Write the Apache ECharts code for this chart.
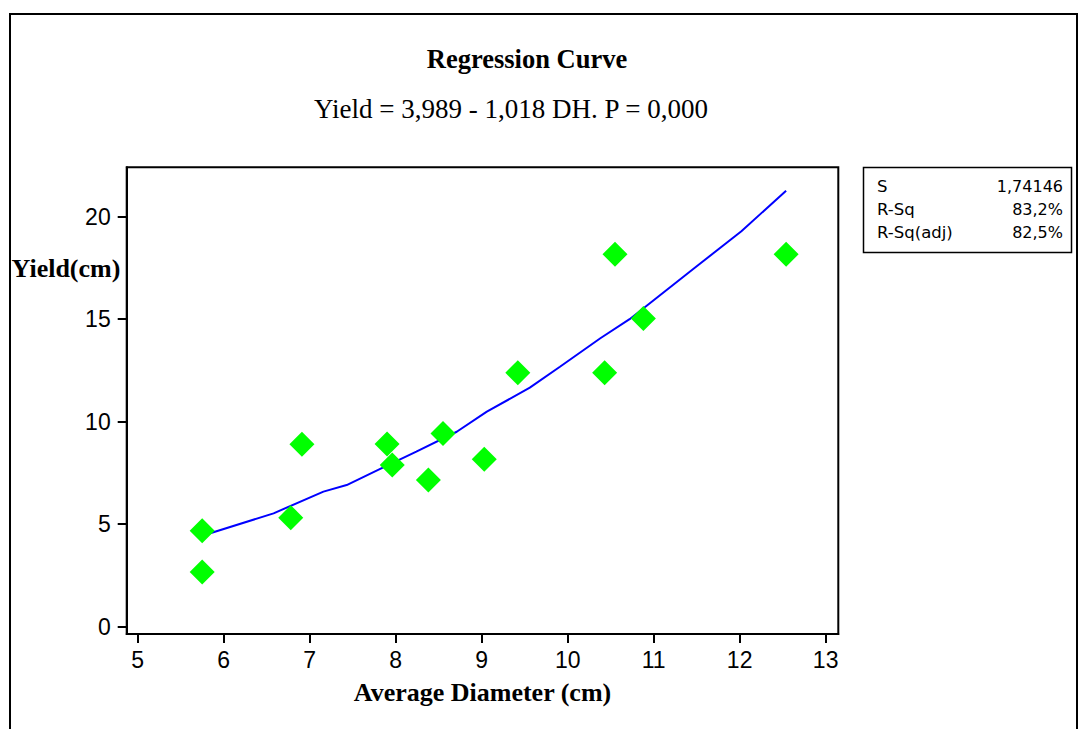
<!DOCTYPE html>
<html>
<head>
<meta charset="utf-8">
<script src="https://cdn.jsdelivr.net/npm/echarts@6/dist/echarts.min.js"></script>
<style>
  html, body { margin: 0; padding: 0; background: #fff; }
  #chart { width: 1080px; height: 729px; }
</style>
</head>
<body>
<div id="chart"></div>
<script>
// ---- data ----
const titleText = 'Regression Curve';
const subtitleText = 'Yield = 3,989 - 1,018 DH. P = 0,000';
const xAxisName = 'Average Diameter (cm)';
const yAxisName = 'Yield(cm)';

const xTicks = [5, 6, 7, 8, 9, 10, 11, 12, 13];
const yTicks = [0, 5, 10, 15, 20];

// observed points (average diameter, yield)
const obsX = [5.75, 5.75, 6.78, 6.91, 7.90, 7.96, 8.38, 8.55, 9.03, 9.42, 10.43, 10.55, 10.88, 12.54];
const obsY = [4.68, 2.67, 5.32, 8.90, 8.91, 7.89, 7.16, 9.43, 8.17, 12.39, 12.39, 18.17, 15.04, 18.17];

// fitted regression curve
const curveX = [5.75, 6.58, 7.16, 7.43, 7.82, 8.24, 8.71, 9.06, 9.56, 9.91, 10.38, 10.72, 11.46, 12.02, 12.54];
const curveY = [4.44, 5.53, 6.59, 6.91, 7.70, 8.54, 9.51, 10.49, 11.66, 12.68, 14.07, 15.00, 17.45, 19.29, 21.27];

// summary statistics box
const statLabels = ['S', 'R-Sq', 'R-Sq(adj)'];
const statValues = ['1,74146', '83,2%', '82,5%'];

// ---- chart ----
const chart = echarts.init(document.getElementById('chart'), null, { renderer: 'svg' });

const scatterData = obsX.map((x, i) => [x, obsY[i]]);
const curveData = curveX.map((x, i) => [x, curveY[i]]);

const serif = "'Liberation Serif', 'Times New Roman', serif";
const tickFont = "'Liberation Sans', Arial, sans-serif";
const boxFont = "'DejaVu Sans', Verdana, sans-serif";

const statGraphics = [];
statGraphics.push({
  type: 'rect',
  shape: { x: 863.5, y: 167.5, width: 208, height: 85 },
  style: { fill: '#fff', stroke: '#000', lineWidth: 1.5 }
});
statLabels.forEach((lab, i) => {
  const cy = 186 + i * 23;
  statGraphics.push({
    type: 'text', x: 877, y: cy,
    style: { text: lab, font: '16.5px ' + boxFont, fill: '#000', textAlign: 'left', textVerticalAlign: 'middle' }
  });
  statGraphics.push({
    type: 'text', x: 1063, y: cy,
    style: { text: statValues[i], font: '16px ' + boxFont, fill: '#000', textAlign: 'right', textVerticalAlign: 'middle' }
  });
});

const option = {
  backgroundColor: '#fff',
  animation: false,
  title: [
    {
      text: titleText,
      left: 522, top: 40, textAlign: 'center',
      textStyle: { fontFamily: serif, fontWeight: 'bold', fontSize: 26.5, color: '#000' }
    },
    {
      text: subtitleText,
      left: 506, top: 90, textAlign: 'center',
      textStyle: { fontFamily: serif, fontWeight: 'normal', fontSize: 27, color: '#000' }
    }
  ],
  grid: {
    left: 126.7, right: 241.7, top: 167.3, bottom: 95,
    show: true, borderColor: '#000', borderWidth: 2, backgroundColor: '#fff',
    outerBoundsMode: 'none'
  },
  xAxis: {
    type: 'value',
    min: 4.872, max: 13.147,
    name: xAxisName,
    nameLocation: 'middle',
    nameGap: 45,
    nameTextStyle: { fontFamily: serif, fontWeight: 'bold', fontSize: 26, color: '#000' },
    axisLine: { show: true, onZero: false, lineStyle: { color: '#000', width: 2 } },
    axisTick: { show: true, length: 9, customValues: xTicks, lineStyle: { color: '#000', width: 2 } },
    axisLabel: { show: true, customValues: xTicks, margin: 14, fontFamily: tickFont, fontSize: 23, color: '#000' },
    splitLine: { show: false }
  },
  yAxis: {
    type: 'value',
    min: -0.356, max: 22.41,
    axisLine: { show: true, onZero: false, lineStyle: { color: '#000', width: 2 } },
    axisTick: { show: true, length: 9, customValues: yTicks, lineStyle: { color: '#000', width: 2 } },
    axisLabel: { show: true, customValues: yTicks, margin: 16, fontFamily: tickFont, fontSize: 23, color: '#000' },
    splitLine: { show: false }
  },
  graphic: [
    {
      type: 'rect',
      shape: { x: 10, y: 14, width: 1067, height: 760 },
      style: { fill: 'none', stroke: '#000', lineWidth: 2 },
      z: 100
    },
    {
      type: 'text', x: 66, y: 268,
      style: { text: yAxisName, font: 'bold 26px ' + serif, fill: '#000', textAlign: 'center', textVerticalAlign: 'middle' },
      z: 100
    }
  ].concat(statGraphics),
  series: [
    {
      type: 'line',
      data: curveData,
      symbol: 'none',
      smooth: false,
      lineStyle: { color: '#0000FF', width: 2 },
      z: 2
    },
    {
      type: 'scatter',
      data: scatterData,
      symbol: 'diamond',
      symbolSize: 25,
      itemStyle: { color: '#00FF00', opacity: 1 },
      z: 3
    }
  ]
};

chart.setOption(option);
</script>
</body>
</html>
